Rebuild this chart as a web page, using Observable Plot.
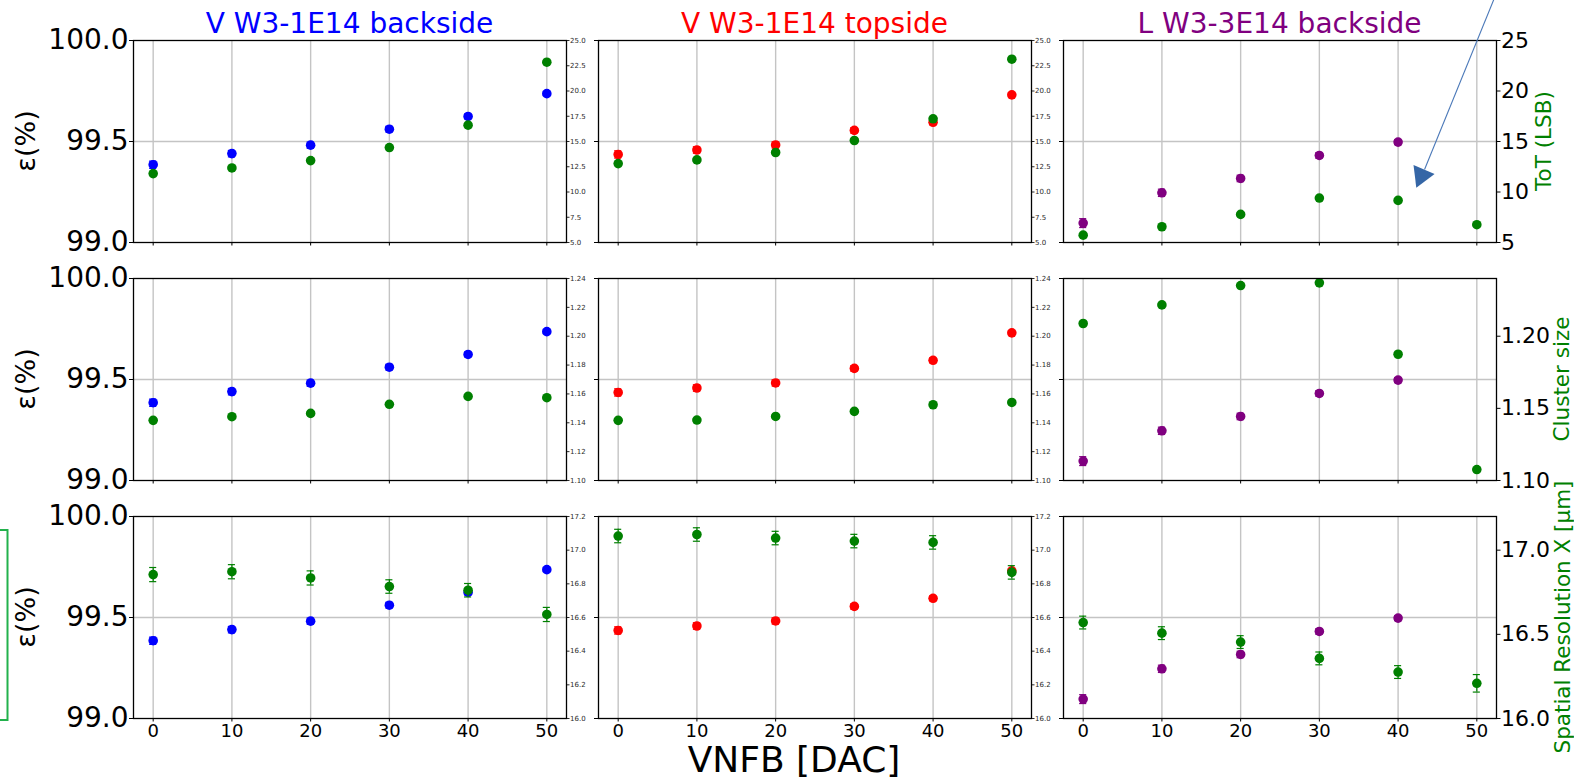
<!DOCTYPE html>
<html><head><meta charset="utf-8">
<script src="https://cdn.jsdelivr.net/npm/d3@7"></script>
<script src="https://cdn.jsdelivr.net/npm/@observablehq/plot@0.6"></script>
<style>
body{margin:0;background:#fff;}
#fig{position:relative;width:1574px;height:781px;overflow:hidden;font-family:"DejaVu Sans",sans-serif;background:#fff;}
</style></head><body><div id="fig"></div>
<script>
// ---------------- data ----------------
const vnfb = [0, 10, 20, 30, 40, 50];
const sampleTitles = ["V W3-1E14 backside", "V W3-1E14 topside", "L W3-3E14 backside"];
const sampleColors = ["#0000ff", "#ff0000", "#800080"];

// efficiency (%) per sample
const effV1Back = [99.385, 99.440, 99.482, 99.561, 99.624, 99.737];
const effV1BackErr = [0.018, 0.016, 0.015, 0.014, 0.012, 0.010];
const effV1Top = [99.436, 99.458, 99.483, 99.555, 99.595, 99.731];
const effV1TopErr = [0.018, 0.016, 0.015, 0.014, 0.012, 0.010];
const effL3Back = [99.096, 99.246, 99.317, 99.431, 99.497, null];
const effL3BackErr = [0.022, 0.018, 0.016, 0.014, 0.012, null];

// ToT (LSB)
const totV1Back = [11.82, 12.38, 13.11, 14.40, 16.62, 22.85];
const totV1Top = [12.81, 13.18, 13.91, 15.10, 17.25, 23.15];
const totL3Back = [5.73, 6.56, 7.78, 9.40, 9.17, 6.76];
const totErr = [0.08, 0.08, 0.08, 0.08, 0.08, 0.08];

// Cluster size
const clsV1Back = [1.1417, 1.1442, 1.1465, 1.1528, 1.1583, 1.1574];
const clsV1Top = [1.1417, 1.1419, 1.1444, 1.1479, 1.1525, 1.1541];
const clsL3Back = [1.2088, 1.2217, 1.2351, 1.2370, 1.1875, 1.1076];
const clsErr = [0.0006, 0.0006, 0.0006, 0.0006, 0.0006, 0.0006];

// Spatial resolution X (um)
const resV1Back = [16.855, 16.872, 16.835, 16.784, 16.762, 16.618];
const resV1BackErr = [0.042, 0.042, 0.042, 0.040, 0.040, 0.042];
const resV1Top = [17.084, 17.093, 17.072, 17.054, 17.046, 16.868];
const resV1TopErr = [0.040, 0.040, 0.040, 0.040, 0.040, 0.040];
const resL3Back = [16.570, 16.507, 16.454, 16.357, 16.276, 16.209];
const resL3BackErr = [0.038, 0.038, 0.038, 0.038, 0.038, 0.052];

// axis ticks
const effTicks = [99.0, 99.5, 100.0];
const totTicksSmall = [5.0, 7.5, 10.0, 12.5, 15.0, 17.5, 20.0, 22.5, 25.0];
const totTicksBig = [5, 10, 15, 20, 25];
const clsTicksSmall = [1.10, 1.12, 1.14, 1.16, 1.18, 1.20, 1.22, 1.24];
const clsTicksBig = [1.10, 1.15, 1.20];
const resTicksSmall = [16.0, 16.2, 16.4, 16.6, 16.8, 17.0, 17.2];
const resTicksBig = [16.0, 16.5, 17.0];
const secLabels = ["ToT (LSB)", "Cluster size", "Spatial Resolution X [\u00b5m]"];
const effLabel = "\u03b5(%)";
const xLabel = "VNFB [DAC]";

// annotation arrow (in ToT-panel data units, L W3-3E14 backside)
const arrowLine = [{x1: 52.37, y1: 29.46, x2: 43.36, y2: 12.23}];
const arrowHead = [{x: 42.97, y: 11.63}];

// ---------------- layout ----------------
const colLeft = [133, 598, 1063];
const rowTop = [40, 278, 516];
const PW = 433, PH = 202;
const xDomain = [-2.5, 52.5];
const effDomain = [99, 100];
const GREEN = "#008000";

const effSeries = [[effV1Back, effV1BackErr], [effV1Top, effV1TopErr], [effL3Back, effL3BackErr]];
const secRows = [
  {domain: [5, 25], small: totTicksSmall, big: totTicksBig, fs: d3.format(".1f"), fb: d3.format("d"),
   series: [[totV1Back, totErr], [totV1Top, totErr], [totL3Back, totErr]]},
  {domain: [1.10, 1.24], small: clsTicksSmall, big: clsTicksBig, fs: d3.format(".2f"), fb: d3.format(".2f"),
   series: [[clsV1Back, clsErr], [clsV1Top, clsErr], [clsL3Back, clsErr]]},
  {domain: [16.0, 17.2], small: resTicksSmall, big: resTicksBig, fs: d3.format(".1f"), fb: d3.format(".1f"),
   series: [[resV1Back, resV1BackErr], [resV1Top, resV1TopErr], [resL3Back, resL3BackErr]]}
];

const fig = document.getElementById("fig");

function toRows(vals, errs) {
  return vnfb.map((x, i) => ({x, y: vals[i], e: errs[i]})).filter(d => d.y != null);
}
function errMarks(data, color, sw) {
  return [
    Plot.ruleX(data, {x: "x", y1: d => d.y - d.e, y2: d => d.y + d.e, stroke: color, strokeWidth: sw}),
    Plot.ruleY(data, {y: d => d.y - d.e, x1: d => d.x - 0.45, x2: d => d.x + 0.45, stroke: color, strokeWidth: sw}),
    Plot.ruleY(data, {y: d => d.y + d.e, x1: d => d.x - 0.45, x2: d => d.x + 0.45, stroke: color, strokeWidth: sw})
  ];
}
function mount(svg, left, top) {
  svg.style.position = "absolute";
  svg.style.left = left + "px";
  svg.style.top = top + "px";
  svg.style.overflow = "visible";
  svg.style.background = "transparent";
  svg.style.maxWidth = "none";
  fig.appendChild(svg);
}
const baseStyle = {background: "transparent", overflow: "visible", fontFamily: "DejaVu Sans", color: "black"};
const empty = () => "";

for (let r = 0; r < 3; r++) {
  for (let c = 0; c < 3; c++) {
    const color = sampleColors[c];
    const effData = toRows(effSeries[c][0], effSeries[c][1]);
    // primary axes: efficiency
    const prim = Plot.plot({
      width: PW, height: PH, margin: 0,
      x: {domain: xDomain},
      y: {domain: effDomain},
      style: baseStyle,
      marks: [
        Plot.gridX({ticks: vnfb, stroke: "#c4c4c4", strokeOpacity: 1, strokeWidth: 1.4}),
        Plot.gridY({ticks: [99.5], stroke: "#c4c4c4", strokeOpacity: 1, strokeWidth: 1.4}),
        Plot.axisX({anchor: "bottom", ticks: vnfb, tickSize: 3.5, tickPadding: 2.5, fontSize: 18,
          tickFormat: r === 2 ? d3.format("d") : empty, label: null}),
        Plot.axisY({anchor: "left", ticks: effTicks, tickSize: 4, tickPadding: 1, fontSize: 28,
          tickFormat: c === 0 ? d3.format(".1f") : empty, label: null}),
        ...errMarks(effData, color, 1.2),
        Plot.dot(effData, {x: "x", y: "y", r: 4.8, fill: color})
      ]
    });
    mount(prim, colLeft[c], rowTop[r]);

    // twin axes: secondary quantity
    const sr = secRows[r];
    const secData = toRows(sr.series[c][0], sr.series[c][1]);
    const big = c === 2;
    const extra = (r === 0 && c === 2) ? [
      Plot.link(arrowLine, {x1: "x1", y1: "y1", x2: "x2", y2: "y2", stroke: "#4a78b8", strokeWidth: 1.1}),
      Plot.dot(arrowHead, {x: "x", y: "y", symbol: "triangle", r: 8.5, fill: "#3566a6", rotate: 203})
    ] : [];
    const twin = Plot.plot({
      width: PW, height: PH, margin: 0,
      x: {domain: xDomain, axis: null},
      y: {domain: sr.domain},
      style: baseStyle,
      marks: [
        Plot.axisY({anchor: "right", ticks: big ? sr.big : sr.small,
          tickSize: big ? 3.5 : 2.5, tickPadding: 1, fontSize: big ? 22 : 7,
          color: big ? "black" : "#2a2a2a",
          tickFormat: big ? sr.fb : sr.fs, label: null}),
        ...errMarks(secData, GREEN, 1.2),
        Plot.dot(secData, {x: "x", y: "y", r: 4.8, fill: GREEN}),
        Plot.frame({stroke: "black", strokeWidth: 1.3}),
        ...extra
      ]
    });
    mount(twin, colLeft[c], rowTop[r]);
  }
}

// ---------------- text overlay ----------------
const ov = d3.create("svg")
  .attr("width", 1574).attr("height", 781)
  .style("position", "absolute").style("left", "0px").style("top", "0px")
  .style("pointer-events", "none")
  .style("font-family", "'DejaVu Sans', sans-serif");

// titles (baseline at y=33)
sampleTitles.forEach((t, c) => {
  ov.append("text").attr("x", colLeft[c] + PW / 2).attr("y", 33)
    .attr("text-anchor", "middle").attr("font-size", 28).attr("fill", sampleColors[c]).text(t);
});
// left efficiency labels (rotated, baseline at x=34.5)
rowTop.forEach(top => {
  ov.append("text").attr("transform", `translate(34.5,${top + PH / 2}) rotate(-90)`)
    .attr("text-anchor", "middle").attr("font-size", 27).attr("fill", "black").text(effLabel);
});
// right secondary labels (green, rotated)
const secLabelBaseX = [1551, 1569, 1570];
rowTop.forEach((top, r) => {
  ov.append("text").attr("transform", `translate(${secLabelBaseX[r]},${top + PH / 2}) rotate(-90)`)
    .attr("text-anchor", "middle").attr("font-size", 21.5).attr("fill", GREEN).text(secLabels[r]);
});
// x label
ov.append("text").attr("x", 794).attr("y", 772).attr("text-anchor", "middle")
  .attr("font-size", 36).attr("fill", "black").text(xLabel);
// green highlight bracket at left of bottom row
ov.append("path").attr("d", "M -2 530 H 7.5 V 720 H -2")
  .attr("fill", "none").attr("stroke", "#22b14c").attr("stroke-width", 2);

fig.appendChild(ov.node());
</script>
</body></html>
